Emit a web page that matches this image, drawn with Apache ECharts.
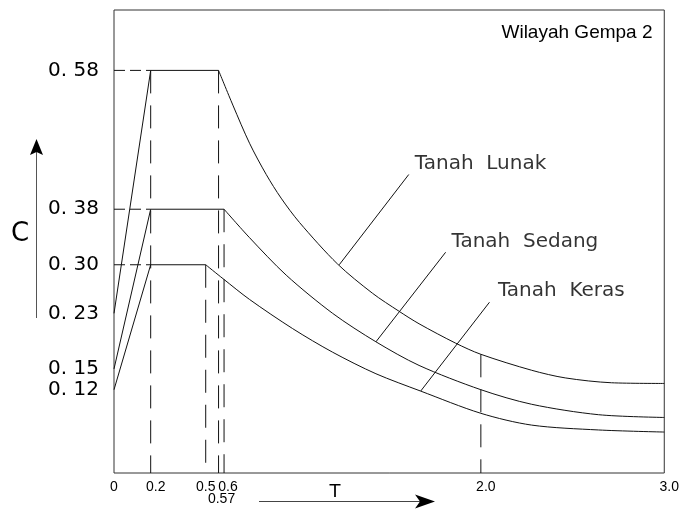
<!DOCTYPE html>
<html><head><meta charset="utf-8">
<script src="https://cdn.jsdelivr.net/npm/echarts@6/dist/echarts.min.js"></script>
<style>html,body{margin:0;padding:0;background:#fff}#c{width:682px;height:510px}</style>
</head><body><div id="c"></div>
<script>
// ---- data ----
const xTickValues = [0, 0.2, 0.5, 0.6, 2.0, 3.0];
const xTickLabels = ['0', '0.2', '0.5', '0.6', '2.0', '3.0'];
const xExtraTickValues = [0.57];
const xExtraTickLabels = ['0.57'];
const yTickValues = [0.58, 0.38, 0.30, 0.23, 0.15, 0.12];
const yTickLabels = ['0. 58', '0. 38', '0. 30', '0. 23', '0. 15', '0. 12'];

const lunakRiseT = [0, 0.2, 0.57];
const lunakRiseC = [0.23, 0.58, 0.58];
const lunakT = [0.57, 0.648, 0.739, 0.830, 0.911, 1.011, 1.219, 1.409, 1.554, 1.663, 1.863, 2.0, 2.277, 2.46, 2.712, 3.0];
const lunakC = [0.58, 0.530, 0.475, 0.430, 0.396, 0.361, 0.301, 0.259, 0.233, 0.215, 0.187, 0.171, 0.148, 0.137, 0.130, 0.129];

const sedangRiseT = [0, 0.2, 0.6];
const sedangRiseC = [0.15, 0.38, 0.38];
const sedangT = [0.6, 0.739, 0.939, 1.192, 1.428, 1.663, 2.0, 2.277, 2.641, 3.0];
const sedangC = [0.38, 0.339, 0.285, 0.230, 0.189, 0.155, 0.120, 0.099, 0.084, 0.080];

const kerasRiseT = [0, 0.2, 0.5];
const kerasRiseC = [0.12, 0.30, 0.30];
const kerasT = [0.5, 0.594, 0.739, 0.974, 1.192, 1.428, 1.672, 2.0, 2.277, 2.641, 3.0];
const kerasC = [0.30, 0.280, 0.250, 0.208, 0.174, 0.143, 0.118, 0.086, 0.069, 0.062, 0.059];

const guideT = [0.2, 0.5, 0.57, 0.6, 2.0];
const guideTop = [0.58, 0.30, 0.58, 0.38, 0.171];
const levelC = [0.58, 0.38, 0.30];
const levelEndT = 0.2;

const leaderStartT = [1.228, 1.428, 1.672];
const leaderStartC = [0.300, 0.189, 0.118];
const leaderEndT = [1.607, 1.808, 2.047];
const leaderEndC = [0.430, 0.318, 0.246];
const soilNames = ['Tanah  Lunak', 'Tanah  Sedang', 'Tanah  Keras'];
const soilLabelT = [1.640, 1.840, 2.093];
const soilLabelC = [0.446, 0.333, 0.262];

// ---- helpers ----
const zip = (a, b) => a.map((v, i) => [v, b[i]]);
const INK = '#000';
const solid = (name, t, c, smooth) => ({
  type: 'line', name, data: zip(t, c), smooth: smooth || false, symbol: 'none',
  lineStyle: { color: '#111', width: 1 }, silent: true, z: 3
});

const series = [
  solid('Lunak rise', lunakRiseT, lunakRiseC),
  solid('Lunak', lunakT, lunakC, 0.3),
  solid('Sedang rise', sedangRiseT, sedangRiseC),
  solid('Sedang', sedangT, sedangC, 0.3),
  solid('Keras rise', kerasRiseT, kerasRiseC),
  solid('Keras', kerasT, kerasC, 0.3)
];
guideT.forEach((t, i) => series.push({
  type: 'line', data: [[t, guideTop[i]], [t, 0]], symbol: 'none', silent: true,
  lineStyle: { color: '#111', width: 1, type: [23, 12] }, z: 2
}));
levelC.forEach(c => series.push({
  type: 'line', data: [[0, c], [levelEndT, c]], symbol: 'none', silent: true,
  lineStyle: { color: '#111', width: 1, type: [11, 5] }, z: 2
}));
leaderStartT.forEach((t, i) => series.push({
  type: 'line', data: [[t, leaderStartC[i]], [leaderEndT[i], leaderEndC[i]]], symbol: 'none', silent: true,
  lineStyle: { color: '#111', width: 1 }, z: 3
}));
series.push({
  type: 'scatter', symbolSize: 0, silent: true,
  data: soilNames.map((n, i) => ({ name: n, value: [soilLabelT[i], soilLabelC[i]] })),
  label: { show: true, position: 'right', distance: 0, formatter: p => p.name,
    fontFamily: 'DejaVu Sans', fontSize: 20, color: INK }
});

const findIdx = (arr, v) => arr.findIndex(t => Math.abs(t - v) < 1e-6);
const xShift = { '0': 'a', '0.2': 'b', '0.5': 'a', '0.6': 'c', '2.0': 'b', '3.0': 'b', '0.57': 'd' };
const XF = { fontFamily: 'Liberation Sans', fontSize: 14, color: INK };
const xRich = {
  a: Object.assign({}, XF),
  b: Object.assign({ padding: [0, 0, 0, 10] }, XF),
  c: Object.assign({ padding: [0, 0, 0, 8] }, XF),
  d: Object.assign({ padding: [0, 0, 0, 6] }, XF)
};

const option = {
  animation: false,
  backgroundColor: '#fff',
  grid: { left: 114, right: 16, top: 10, bottom: 37, show: true, borderColor: '#333', borderWidth: 1 },
  xAxis: [{
    type: 'value', min: 0, max: 3, position: 'bottom',
    axisLine: { show: false }, axisTick: { show: false }, splitLine: { show: false },
    axisLabel: Object.assign({
      customValues: xTickValues, margin: 7,
      formatter: v => { const s = xTickLabels[findIdx(xTickValues, v)]; return '{' + xShift[s] + '|' + s + '}'; },
      rich: xRich
    }, XF)
  }, {
    type: 'value', min: 0, max: 3, position: 'bottom',
    axisLine: { show: false }, axisTick: { show: false }, splitLine: { show: false },
    axisLabel: Object.assign({
      customValues: xExtraTickValues, margin: 19,
      formatter: v => { const s = xExtraTickLabels[findIdx(xExtraTickValues, v)]; return '{' + xShift[s] + '|' + s + '}'; },
      rich: xRich
    }, XF)
  }],
  yAxis: {
    type: 'value', min: 0, max: 0.667,
    axisLine: { show: false }, axisTick: { show: false }, splitLine: { show: false },
    axisLabel: {
      customValues: yTickValues, margin: 15, padding: [0, 0, 9, 0],
      formatter: v => yTickLabels[findIdx(yTickValues, v)],
      fontFamily: 'DejaVu Sans', fontSize: 20, color: INK
    }
  },
  series,
  graphic: [
    { type: 'line', shape: { x1: 36.5, y1: 150, x2: 36.5, y2: 318 }, style: { stroke: '#555', lineWidth: 1 } },
    { type: 'polygon', shape: { points: [[36.5, 139], [30, 155], [36.5, 152], [43, 155]] }, style: { fill: '#000' } },
    { type: 'text', x: 20, y: 234, style: { text: 'C', font: '26px "DejaVu Sans"', fill: INK, align: 'center', verticalAlign: 'middle', textAlign: 'center', textVerticalAlign: 'middle' } },
    { type: 'line', shape: { x1: 259, y1: 501.5, x2: 422, y2: 501.5 }, style: { stroke: '#444', lineWidth: 1 } },
    { type: 'polygon', shape: { points: [[435, 501.5], [415, 494.5], [420, 501.5], [415, 508.5]] }, style: { fill: '#000' } },
    { type: 'text', x: 335, y: 492, style: { text: 'T', font: '18px "DejaVu Sans"', fill: INK, align: 'center', verticalAlign: 'middle', textAlign: 'center', textVerticalAlign: 'middle' } },
    { type: 'text', x: 577, y: 33, style: { text: 'Wilayah Gempa 2', font: '19px "Liberation Sans"', fill: INK, align: 'center', verticalAlign: 'middle', textAlign: 'center', textVerticalAlign: 'middle' } }
  ]
};

const chart = echarts.init(document.getElementById('c'), null, { renderer: 'canvas' });
chart.setOption(option);
</script>
</body></html>
